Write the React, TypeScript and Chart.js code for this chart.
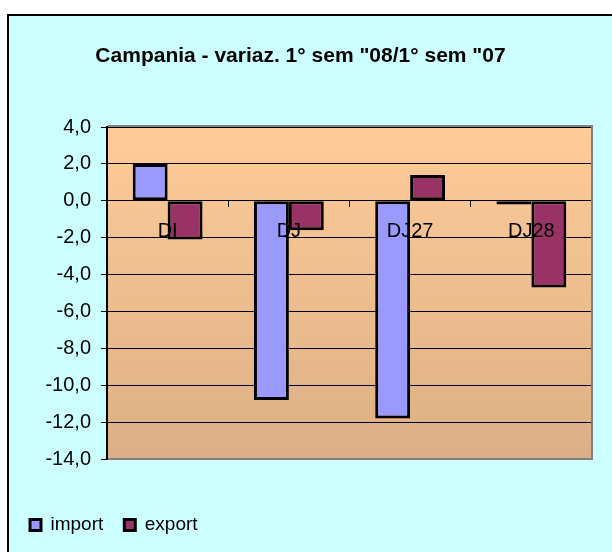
import React, { useEffect, useRef } from 'react';
import { Chart, registerables } from 'chart.js';

Chart.register(...registerables);

const titleText = 'Campania - variaz. 1° sem "08/1° sem "07';
const categories = ['DI', 'DJ', 'DJ27', 'DJ28'];
const importValues = [2.0, -10.8, -11.8, -0.2];
const exportValues = [-2.1, -1.6, 1.4, -4.7];
const seriesNames = ['import', 'export'];
const yMin = -14;
const yMax = 4;
const yStep = 2;

const FONT = '"Liberation Sans", Arial, Helvetica, sans-serif';

const framePlugin = {
  id: 'frame',
  beforeDraw(chart: any) {
    const { ctx, width, height, chartArea } = chart;
    ctx.save();
    ctx.fillStyle = '#ffffff';
    ctx.fillRect(0, 0, width, height);
    ctx.fillStyle = '#000000';
    ctx.fillRect(7, 14, width - 7, 2);
    ctx.fillRect(7, 14, 2, height - 14);
    ctx.fillStyle = '#CCFFFF';
    ctx.fillRect(9, 16, width - 9, height - 16);
    const g = ctx.createLinearGradient(0, chartArea.top, 0, chartArea.bottom);
    g.addColorStop(0, '#FFCC99');
    g.addColorStop(1, '#DCAF86');
    ctx.fillStyle = g;
    ctx.fillRect(chartArea.left, chartArea.top, chartArea.right - chartArea.left, chartArea.bottom - chartArea.top);
    ctx.restore();
  },
  afterDraw(chart: any) {
    const { ctx, chartArea } = chart;
    ctx.save();
    ctx.strokeStyle = '#808080';
    ctx.lineWidth = 2;
    ctx.beginPath();
    ctx.moveTo(chartArea.left + 1, chartArea.top - 1);
    ctx.lineTo(chartArea.right, chartArea.top - 1);
    ctx.lineTo(chartArea.right, chartArea.bottom);
    ctx.lineTo(chartArea.left + 1, chartArea.bottom);
    ctx.stroke();
    ctx.restore();
  },
};

export default function App() {
  const ref = useRef<HTMLCanvasElement | null>(null);

  useEffect(() => {
    if (!ref.current) return;
    const chart = new Chart(ref.current, {
      type: 'bar',
      data: {
        labels: categories,
        datasets: [
          {
            label: seriesNames[0],
            data: importValues,
            backgroundColor: '#9999FF',
            borderColor: '#000000',
            borderWidth: 3,
            borderSkipped: false,
            categoryPercentage: 0.576,
            barPercentage: 1,
          },
          {
            label: seriesNames[1],
            data: exportValues,
            backgroundColor: '#993366',
            borderColor: '#000000',
            borderWidth: 3,
            borderSkipped: false,
            categoryPercentage: 0.576,
            barPercentage: 1,
          },
        ],
      },
      options: {
        responsive: false,
        animation: false,
        layout: { padding: { top: 0, left: 9, right: 20, bottom: 7.5 } },
        plugins: {
          tooltip: { enabled: false },
          title: {
            display: true,
            text: titleText,
            color: '#000000',
            font: { family: FONT, size: 21, weight: 'bold' },
            padding: { top: 44, bottom: 57.8 },
          },
          legend: {
            position: 'bottom',
            align: 'start',
            labels: {
              boxWidth: 11,
              boxHeight: 11,
              color: '#000000',
              font: { family: FONT, size: 19 },
              padding: 21,
            },
          },
        },
        scales: {
          x: {
            position: { y: 0 } as any,
            offset: true,
            ticks: {
              z: 1,
              color: '#000000',
              font: { family: FONT, size: 20 },
              padding: 13,
              maxRotation: 0,
              autoSkip: false,
            },
            grid: {
              display: true,
              drawOnChartArea: false,
              drawTicks: true,
              tickLength: 6,
              tickColor: '#000000',
              offset: true,
            },
            border: { display: true, color: '#000000', width: 1 },
          },
          xPad: {
            type: 'category',
            position: 'bottom',
            display: true,
            grid: { display: false },
            border: { display: false },
            ticks: { display: false },
            afterFit: (s: any) => {
              s.height = 35.5;
            },
          },
          y: {
            min: yMin,
            max: yMax,
            ticks: {
              stepSize: yStep,
              color: '#000000',
              font: { family: FONT, size: 20 },
              padding: 10,
              callback: (v: any) => Number(v).toFixed(1).replace('.', ','),
            },
            grid: {
              color: '#000000',
              lineWidth: 1,
              drawTicks: true,
              tickLength: 6,
              tickColor: '#000000',
            },
            border: { display: true, color: '#000000', width: 2 },
            afterFit: (s: any) => {
              s.width = 98;
            },
          },
        },
      },
      plugins: [framePlugin],
    });
    return () => chart.destroy();
  }, []);

  return (
    <div style={{ position: 'fixed', left: 0, top: 0, width: 612, height: 552 }}>
      <canvas ref={ref} width={612} height={552} style={{ display: 'block', width: 612, height: 552 }} />
    </div>
  );
}
